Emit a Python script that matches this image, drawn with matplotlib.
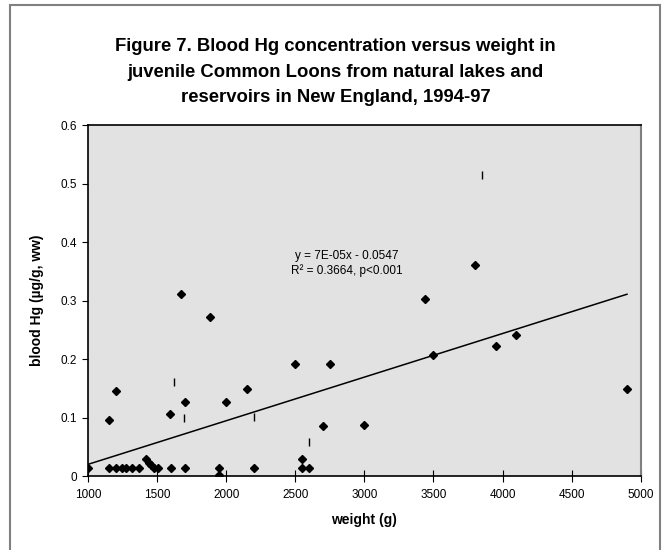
import numpy as np
import matplotlib
matplotlib.use("Agg")
import matplotlib.pyplot as plt
from matplotlib.patches import Rectangle

plt.rcParams['font.family'] = ['Liberation Sans', 'DejaVu Sans']

# juvenile loons: weight (g) and blood Hg (ug/g ww)
weight = [1000, 1150, 1200, 1250, 1275, 1320, 1370, 1420, 1445, 1460, 1480, 1505,
          1600, 1700, 1950, 1950, 2200, 2550, 2550, 2600,
          1150, 1200, 1595, 1670, 1700, 1880, 2000, 2150, 2500, 2700, 2750,
          3000, 3440, 3500, 3800, 3950, 4100, 4900]
blood_hg = [0.013, 0.013, 0.013, 0.013, 0.013, 0.013, 0.013, 0.029, 0.022, 0.018, 0.013, 0.013,
            0.013, 0.013, 0.013, 0.001, 0.013, 0.029, 0.013, 0.013,
            0.096, 0.146, 0.106, 0.311, 0.127, 0.272, 0.127, 0.149, 0.191, 0.085, 0.191,
            0.088, 0.302, 0.207, 0.361, 0.222, 0.241, 0.149]

# small vertical marks in the plot
mark_x = [1625, 1697, 2203, 2601, 3852]
mark_y = [0.161, 0.100, 0.101, 0.058, 0.515]

# linear trend
slope = 7.46e-05
intercept = -0.0547

fig = plt.figure(figsize=(6.71, 5.5), dpi=100)
ax = fig.add_axes([0.131, 0.1345, 0.824, 0.638])
ax.set_facecolor('#e2e2e2')

ax.plot(weight, blood_hg, ls='none', marker='D', markersize=3.8, color='black')
ax.plot(mark_x, mark_y, ls='none', marker='|', markersize=5.5, mew=1, color='black')

tx = np.array([min(weight), max(weight)])
ax.plot(tx, slope * tx + intercept, color='black', lw=1.1)

ax.text(2873, 0.376, "y = 7E-05x - 0.0547", fontsize=8.5, ha='center', va='center')
ax.text(2873, 0.351, "R² = 0.3664, p<0.001", fontsize=8.5, ha='center', va='center')

ax.set_xlim(1000, 5000)
ax.set_ylim(0, 0.6)
ax.set_xticks(np.arange(1000, 5001, 500))
ax.set_yticks(np.arange(0, 0.61, 0.1))
ax.set_yticklabels(['0', '0.1', '0.2', '0.3', '0.4', '0.5', '0.6'])
ax.tick_params(axis='x', direction='inout', length=8, labelsize=8.5, pad=5)
ax.tick_params(axis='y', direction='out', length=4, labelsize=8.5, pad=4)

ax.spines['top'].set_color('black')
ax.spines['top'].set_linewidth(1.2)
ax.spines['right'].set_color('#808080')
ax.spines['right'].set_linewidth(1.5)
for s in ['left', 'bottom']:
    ax.spines[s].set_color('black')
    ax.spines[s].set_linewidth(1.2)

ax.set_xlabel("weight (g)", fontsize=10, fontweight='bold', labelpad=9)
ax.set_ylabel("blood Hg (µg/g, ww)", fontsize=10, fontweight='bold', labelpad=12)

fig.text(0.5, 0.869, "Figure 7. Blood Hg concentration versus weight in\n"
         "juvenile Common Loons from natural lakes and\n"
         "reservoirs in New England, 1994-97",
         ha='center', va='center', fontsize=13.3, fontweight='bold', linespacing=1.65)

fig.patches.append(Rectangle((10/671, -0.02), 650/671, 1.0 - 5/550 + 0.02,
                             transform=fig.transFigure, fill=False,
                             edgecolor='#808080', lw=1.5))

fig.savefig("out.png", dpi=100)
